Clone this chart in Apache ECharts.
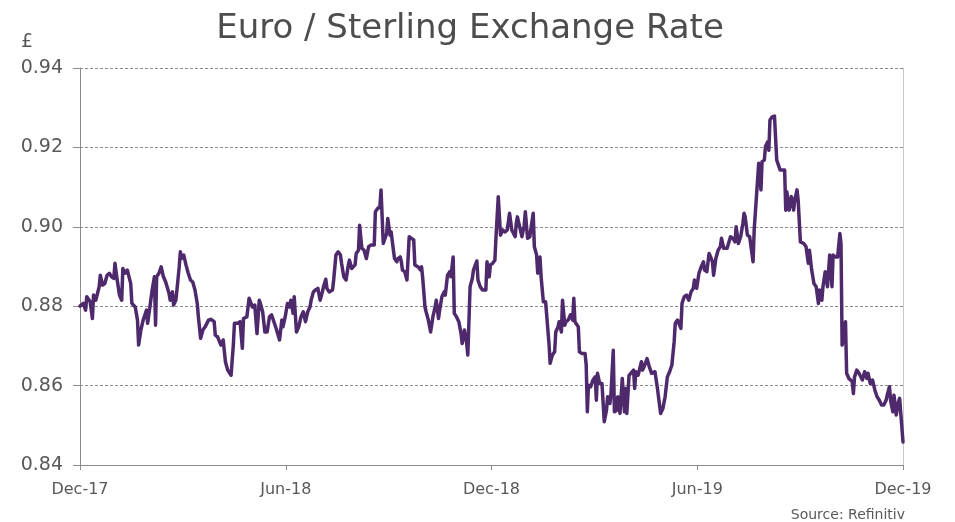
<!DOCTYPE html>
<html>
<head>
<meta charset="utf-8">
<title>Euro / Sterling Exchange Rate</title>
<script src="https://cdn.jsdelivr.net/npm/echarts@6/dist/echarts.min.js"></script>
<style>
  html, body { margin: 0; padding: 0; background: #fff; }
  #chart { width: 955px; height: 522px; }
</style>
</head>
<body>
<div id="chart"></div>
<script>
// days counted from 1 Dec 2017 (0) to 1 Dec 2019 (730)
var days = [
  0, 1, 3, 5, 6, 9, 11, 12, 14, 17,
  18, 20, 22, 24, 26, 28, 30, 31, 33, 35,
  37, 38, 40, 42, 43, 45, 46, 49, 51, 52,
  54, 56, 57, 59, 60, 62, 64, 66, 67, 68,
  70, 72, 74, 76, 77, 79, 80, 82, 83, 85,
  86, 88, 89, 90, 92, 94, 96, 98, 100, 102,
  104, 105, 107, 109, 111, 114, 116, 119, 120, 122,
  123, 125, 127, 129, 131, 134, 136, 137, 140, 142,
  144, 145, 148, 150, 151, 153, 155, 157, 159, 160,
  162, 164, 166, 168, 170, 172, 174, 177, 179, 180,
  182, 184, 186, 187, 189, 190, 192, 194, 196, 198,
  200, 202, 204, 205, 207, 209, 211, 213, 215, 216,
  218, 219, 221, 224, 225, 227, 229, 231, 232, 234,
  236, 238, 239, 241, 244, 245, 247, 248, 250, 252,
  254, 256, 258, 261, 262, 264, 266, 267, 269, 270,
  272, 273, 275, 276, 278, 279, 281, 282, 284, 285,
  286, 288, 289, 290, 292, 294, 296, 297, 300, 302,
  303, 304, 306, 307, 309, 311, 313, 315, 316, 318,
  319, 321, 323, 324, 326, 328, 329, 331, 332, 334,
  336, 338, 339, 341, 343, 344, 346, 348, 349, 352,
  353, 355, 357, 358, 360, 361, 363, 364, 366, 368,
  369, 371, 373, 375, 377, 379, 381, 383, 384, 386,
  387, 388, 390, 392, 394, 395, 397, 399, 400, 402,
  403, 405, 406, 408, 409, 411, 413, 414, 416, 417,
  419, 421, 422, 424, 425, 427, 428, 430, 431, 433,
  435, 437, 438, 439, 442, 443, 445, 448, 449, 450,
  451, 453, 455, 457, 458, 459, 461, 463, 465, 467,
  468, 470, 471, 473, 474, 476, 477, 479, 481, 483,
  484, 485, 487, 488, 491, 492, 493, 495, 496, 498,
  499, 501, 503, 505, 507, 508, 510, 512, 513, 515,
  517, 519, 521, 523, 525, 527, 528, 530, 533, 534,
  536, 538, 540, 542, 544, 545, 547, 549, 551, 553,
  554, 556, 558, 559, 561, 562, 564, 566, 568, 569,
  571, 574, 575, 577, 579, 581, 582, 584, 586, 588,
  589, 590, 592, 594, 595, 597, 598, 600, 602, 604,
  605, 607, 608, 610, 611, 612, 614, 616, 618, 621,
  625, 626, 627, 629, 631, 633, 634, 636, 637, 639,
  642, 644, 646, 647, 649, 651, 653, 655, 656, 658,
  659, 661, 663, 665, 667, 668, 670, 672, 674, 675,
  676, 678, 679, 680, 682, 685, 686, 687, 689, 691,
  692, 694, 696, 698, 699, 701, 703, 705, 707, 709,
  711, 713, 715, 716, 718, 719, 721, 722, 724, 726,
  727, 730
];

// EUR/GBP, pounds per euro
var rates = [
  0.8800, 0.8803, 0.8807, 0.8790, 0.8824, 0.8811, 0.8769, 0.8828, 0.8815, 0.8849,
  0.8878, 0.8853, 0.8857, 0.8878, 0.8883, 0.8874, 0.8870, 0.8908, 0.8866, 0.8828,
  0.8815, 0.8895, 0.8883, 0.8891, 0.8887, 0.8857, 0.8807, 0.8798, 0.8765, 0.8702,
  0.8740, 0.8765, 0.8773, 0.8790, 0.8757, 0.8798, 0.8841, 0.8874, 0.8752, 0.8874,
  0.8883, 0.8899, 0.8874, 0.8861, 0.8857, 0.8832, 0.8815, 0.8836, 0.8803, 0.8815,
  0.8841, 0.8899, 0.8937, 0.8920, 0.8929, 0.8904, 0.8883, 0.8866, 0.8861, 0.8841,
  0.8807, 0.8773, 0.8719, 0.8740, 0.8748, 0.8765, 0.8767, 0.8761, 0.8727, 0.8723,
  0.8727, 0.8702, 0.8715, 0.8660, 0.8639, 0.8626, 0.8702, 0.8757, 0.8757, 0.8761,
  0.8694, 0.8769, 0.8773, 0.8820, 0.8824, 0.8798, 0.8803, 0.8731, 0.8815, 0.8807,
  0.8786, 0.8735, 0.8735, 0.8773, 0.8778, 0.8761, 0.8744, 0.8715, 0.8765, 0.8748,
  0.8773, 0.8807, 0.8798, 0.8815, 0.8782, 0.8824, 0.8735, 0.8748, 0.8773, 0.8786,
  0.8761, 0.8786, 0.8798, 0.8815, 0.8836, 0.8841, 0.8845, 0.8815, 0.8836, 0.8849,
  0.8868, 0.8845, 0.8836, 0.8841, 0.8866, 0.8929, 0.8937, 0.8929, 0.8908, 0.8874,
  0.8866, 0.8904, 0.8916, 0.8895, 0.8904, 0.8933, 0.8941, 0.9004, 0.8946, 0.8941,
  0.8920, 0.8950, 0.8954, 0.8954, 0.9038, 0.9046, 0.9050, 0.9093, 0.8958, 0.8954,
  0.8983, 0.9021, 0.8979, 0.8987, 0.8941, 0.8920, 0.8912, 0.8920, 0.8924, 0.8912,
  0.8891, 0.8887, 0.8883, 0.8866, 0.8975, 0.8971, 0.8967, 0.8904, 0.8899, 0.8891,
  0.8899, 0.8870, 0.8798, 0.8786, 0.8765, 0.8735, 0.8773, 0.8798, 0.8815, 0.8769,
  0.8790, 0.8824, 0.8836, 0.8828, 0.8878, 0.8887, 0.8874, 0.8924, 0.8782, 0.8773,
  0.8761, 0.8731, 0.8706, 0.8740, 0.8706, 0.8677, 0.8849, 0.8870, 0.8891, 0.8914,
  0.8866, 0.8849, 0.8841, 0.8845, 0.8841, 0.8912, 0.8874, 0.8904, 0.8908, 0.8916,
  0.8975, 0.9076, 0.8979, 0.8992, 0.8987, 0.8992, 0.9034, 0.8992, 0.8996, 0.8975,
  0.9009, 0.9025, 0.9000, 0.8975, 0.9004, 0.9038, 0.8971, 0.8975, 0.8996, 0.9034,
  0.8950, 0.8929, 0.8883, 0.8924, 0.8874, 0.8811, 0.8811, 0.8809, 0.8706, 0.8656,
  0.8677, 0.8685, 0.8735, 0.8748, 0.8761, 0.8735, 0.8815, 0.8752, 0.8761, 0.8765,
  0.8778, 0.8765, 0.8820, 0.8761, 0.8748, 0.8685, 0.8681, 0.8681, 0.8652, 0.8534,
  0.8601, 0.8597, 0.8614, 0.8622, 0.8563, 0.8631, 0.8605, 0.8605, 0.8509, 0.8538,
  0.8572, 0.8555, 0.8580, 0.8689, 0.8534, 0.8538, 0.8572, 0.8530, 0.8618, 0.8534,
  0.8593, 0.8530, 0.8626, 0.8622, 0.8639, 0.8593, 0.8635, 0.8626, 0.8631, 0.8660,
  0.8639, 0.8652, 0.8668, 0.8647, 0.8631, 0.8631, 0.8635, 0.8597, 0.8593, 0.8530,
  0.8542, 0.8572, 0.8622, 0.8635, 0.8652, 0.8710, 0.8757, 0.8765, 0.8744, 0.8807,
  0.8824, 0.8828, 0.8815, 0.8836, 0.8845, 0.8866, 0.8845, 0.8883, 0.8899, 0.8912,
  0.8891, 0.8887, 0.8933, 0.8937, 0.8912, 0.8878, 0.8920, 0.8941, 0.8950, 0.8971,
  0.8946, 0.8946, 0.8950, 0.8975, 0.8971, 0.8962, 0.9000, 0.8958, 0.8975, 0.9009,
  0.9034, 0.9025, 0.8979, 0.8975, 0.8975, 0.8912, 0.8992, 0.9076, 0.9160, 0.9093,
  0.9164, 0.9168, 0.9202, 0.9214, 0.9193, 0.9269, 0.9277, 0.9279, 0.9168, 0.9143,
  0.9143, 0.9042, 0.9088, 0.9042, 0.9076, 0.9042, 0.9067, 0.9093, 0.9067, 0.8962,
  0.8958, 0.8950, 0.8908, 0.8941, 0.8891, 0.8857, 0.8849, 0.8807, 0.8841, 0.8815,
  0.8849, 0.8887, 0.8849, 0.8929, 0.8849, 0.8929, 0.8924, 0.8924, 0.8983, 0.8958,
  0.8702, 0.8731, 0.8761, 0.8631, 0.8618, 0.8610, 0.8580, 0.8622, 0.8639, 0.8631,
  0.8631, 0.8614, 0.8635, 0.8618, 0.8631, 0.8605, 0.8614, 0.8589, 0.8572, 0.8563,
  0.8551, 0.8551, 0.8563, 0.8576, 0.8597, 0.8563, 0.8534, 0.8576, 0.8526, 0.8559,
  0.8568, 0.8458
];

var tickLabels = ["Dec-17", "Jun-18", "Dec-18", "Jun-19", "Dec-19"];

var chart = echarts.init(document.getElementById("chart"));

var fontFamily = "'DejaVu Sans', sans-serif";
var axisGrey = "#8c8c8c";
var textGrey = "#595959";

var option = {
  backgroundColor: "#fff",
  animation: false,
  grid: {
    left: 80,
    right: 52,
    top: 68,
    bottom: 57,
    containLabel: false
  },
  xAxis: {
    type: "value",
    min: 0,
    max: 730,
    interval: 182.5,
    axisLine: { show: true, lineStyle: { color: axisGrey, width: 1 } },
    axisTick: { show: true, length: 5, lineStyle: { color: axisGrey } },
    splitLine: { show: false },
    axisLabel: {
      margin: 17,
      fontSize: 16,
      color: textGrey,
      fontFamily: fontFamily,
      formatter: function (v) {
        return tickLabels[Math.round(v / 182.5)] || "";
      }
    }
  },
  yAxis: [
    {
      type: "value",
      min: 0.84,
      max: 0.94,
      interval: 0.02,
      axisLine: { show: true, lineStyle: { color: axisGrey, width: 1 } },
      axisTick: { show: true, length: 7, lineStyle: { color: axisGrey } },
      splitLine: {
        show: true,
        lineStyle: { color: "#8c8c8c", type: [3, 2], width: 1 }
      },
      axisLabel: {
        margin: 17,
        fontSize: 19,
        color: textGrey,
        fontFamily: fontFamily,
        formatter: function (v) {
          return v.toFixed(2);
        }
      }
    },
    {
      type: "value",
      position: "right",
      min: 0.84,
      max: 0.94,
      interval: 0.02,
      axisLine: { show: true, lineStyle: { color: "#c8c8c8", width: 1 } },
      axisTick: { show: false },
      axisLabel: { show: false },
      splitLine: { show: false }
    }
  ],
  graphic: {
    elements: [
      {
        type: "text",
        x: 470,
        y: 29,
        style: {
          text: "Euro / Sterling Exchange Rate",
          fontSize: 34,
          fontFamily: fontFamily,
          fill: "#4d4d4d",
          textAlign: "center",
          textVerticalAlign: "middle"
        }
      },
      {
        type: "text",
        x: 21,
        y: 42,
        style: {
          text: "£",
          fontSize: 19,
          fontFamily: fontFamily,
          fill: textGrey,
          textVerticalAlign: "middle"
        }
      },
      {
        type: "text",
        x: 905,
        y: 515,
        style: {
          text: "Source: Refinitiv",
          fontSize: 14,
          fontFamily: fontFamily,
          fill: textGrey,
          textAlign: "right",
          textVerticalAlign: "middle"
        }
      }
    ]
  },
  series: [
    {
      name: "EUR/GBP",
      type: "line",
      showSymbol: false,
      symbol: "none",
      data: days.map(function (d, i) {
        return [d, rates[i]];
      }),
      lineStyle: { color: "#4e2a6c", width: 3.5, join: "round", cap: "round" },
      itemStyle: { color: "#4e2a6c" }
    }
  ]
};

chart.setOption(option);
</script>
</body>
</html>
